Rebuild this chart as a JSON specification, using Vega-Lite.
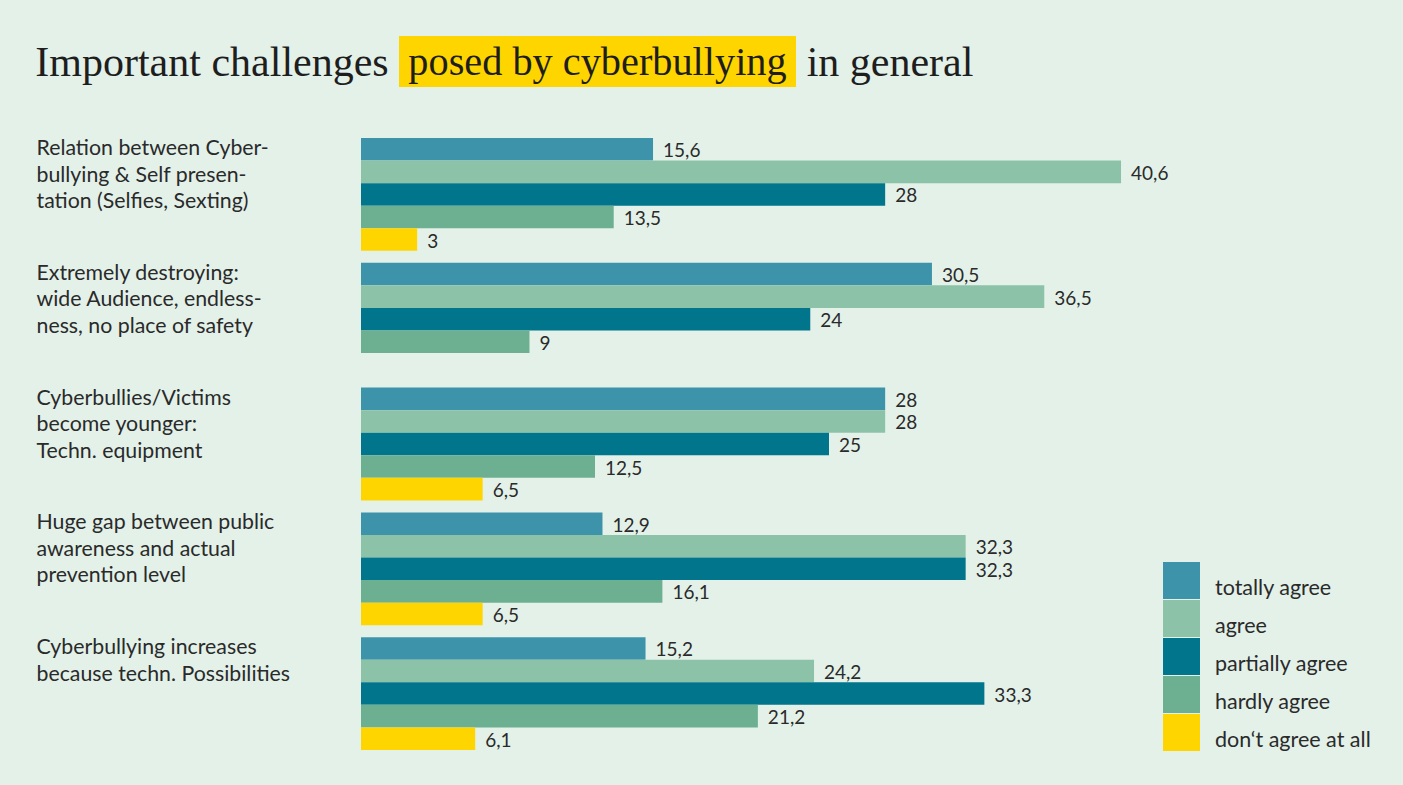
{
  "$schema": "https://vega.github.io/schema/vega-lite/v6.json",
  "background": "#e3f1e9",
  "padding": {"left": 35, "top": 36, "right": 0, "bottom": 35},
  "config": {
    "view": {"stroke": null},
    "font": "Lato",
    "locale": {"number": {"decimal": ",", "thousands": ".", "grouping": [3], "currency": ["", " €"]}}
  },
  "spacing": 50,
  "resolve": {"legend": {"color": "independent"}},
  "vconcat": [
    {
      "hconcat": [
        {
          "width": 352, "height": 51,
          "data": {"values": [{"t": "Important challenges"}]},
          "mark": {"type": "text", "font": "Liberation Serif", "fontSize": 42, "color": "#1e1e1e", "baseline": "middle", "dy": 1},
          "encoding": {"text": {"field": "t"}}
        },
        {
          "width": 397, "height": 51,
          "view": {"fill": "#ffd500", "stroke": null},
          "data": {"values": [{"t": "posed by cyberbullying"}]},
          "mark": {"type": "text", "font": "Liberation Serif", "fontSize": 40.3, "color": "#1e1e1e", "baseline": "middle", "dy": 1},
          "encoding": {"text": {"field": "t"}}
        },
        {
          "width": 164, "height": 51,
          "data": {"values": [{"t": "in general"}]},
          "mark": {"type": "text", "font": "Liberation Serif", "fontSize": 42, "color": "#1e1e1e", "baseline": "middle", "dy": 1},
          "encoding": {"text": {"field": "t"}}
        }
      ],
      "spacing": 10
    },
    {
      "width": 1368,
      "height": 612,
      "data": {"values": [
        {"topic": "Relation between Cyber-|bullying & Self presen-|tation (Selfies, Sexting)", "cat": "totally agree", "value": 15.6},
        {"topic": "Relation between Cyber-|bullying & Self presen-|tation (Selfies, Sexting)", "cat": "agree", "value": 40.6},
        {"topic": "Relation between Cyber-|bullying & Self presen-|tation (Selfies, Sexting)", "cat": "partially agree", "value": 28},
        {"topic": "Relation between Cyber-|bullying & Self presen-|tation (Selfies, Sexting)", "cat": "hardly agree", "value": 13.5},
        {"topic": "Relation between Cyber-|bullying & Self presen-|tation (Selfies, Sexting)", "cat": "don‘t agree at all", "value": 3},
        {"topic": "Extremely destroying:|wide Audience, endless-|ness, no place of safety", "cat": "totally agree", "value": 30.5},
        {"topic": "Extremely destroying:|wide Audience, endless-|ness, no place of safety", "cat": "agree", "value": 36.5},
        {"topic": "Extremely destroying:|wide Audience, endless-|ness, no place of safety", "cat": "partially agree", "value": 24},
        {"topic": "Extremely destroying:|wide Audience, endless-|ness, no place of safety", "cat": "hardly agree", "value": 9},
        {"topic": "Cyberbullies/Victims|become younger:|Techn. equipment", "cat": "totally agree", "value": 28},
        {"topic": "Cyberbullies/Victims|become younger:|Techn. equipment", "cat": "agree", "value": 28},
        {"topic": "Cyberbullies/Victims|become younger:|Techn. equipment", "cat": "partially agree", "value": 25},
        {"topic": "Cyberbullies/Victims|become younger:|Techn. equipment", "cat": "hardly agree", "value": 12.5},
        {"topic": "Cyberbullies/Victims|become younger:|Techn. equipment", "cat": "don‘t agree at all", "value": 6.5},
        {"topic": "Huge gap between public|awareness and actual|prevention level", "cat": "totally agree", "value": 12.9},
        {"topic": "Huge gap between public|awareness and actual|prevention level", "cat": "agree", "value": 32.3},
        {"topic": "Huge gap between public|awareness and actual|prevention level", "cat": "partially agree", "value": 32.3},
        {"topic": "Huge gap between public|awareness and actual|prevention level", "cat": "hardly agree", "value": 16.1},
        {"topic": "Huge gap between public|awareness and actual|prevention level", "cat": "don‘t agree at all", "value": 6.5},
        {"topic": "Cyberbullying increases|because techn. Possibilities", "cat": "totally agree", "value": 15.2},
        {"topic": "Cyberbullying increases|because techn. Possibilities", "cat": "agree", "value": 24.2},
        {"topic": "Cyberbullying increases|because techn. Possibilities", "cat": "partially agree", "value": 33.3},
        {"topic": "Cyberbullying increases|because techn. Possibilities", "cat": "hardly agree", "value": 21.2},
        {"topic": "Cyberbullying increases|because techn. Possibilities", "cat": "don‘t agree at all", "value": 6.1}
      ]},
      "encoding": {
        "y": {
          "field": "topic", "type": "nominal", "sort": null,
          "scale": {"paddingInner": 0.096, "paddingOuter": 0},
          "axis": {
            "title": null, "domain": false, "ticks": false, "tickSize": 0,
            "labelAlign": "left", "labelBaseline": "top", "labelPadding": 0,
            "labelOffset": -56.4,
            "labelFontSize": 21.3, "labelLineHeight": 26.5, "labelColor": "#2a2a2a",
            "labelLimit": 0,
            "labelExpr": "split(datum.value, '|')"
          }
        },
        "yOffset": {
          "field": "cat", "type": "nominal",
          "sort": ["totally agree", "agree", "partially agree", "hardly agree", "don‘t agree at all"],
          "scale": {"domain": ["totally agree", "agree", "partially agree", "hardly agree", "don‘t agree at all"], "paddingInner": 0, "paddingOuter": 0}
        },
        "x": {"field": "value", "type": "quantitative", "scale": {"domain": [-17.361, 55.716], "nice": false, "zero": false}, "axis": null}
      },
      "layer": [
        {
          "mark": {"type": "bar"},
          "encoding": {
            "x2": {"datum": 0},
            "color": {
              "field": "cat", "type": "nominal",
              "scale": {
                "domain": ["totally agree", "agree", "partially agree", "hardly agree", "don‘t agree at all"],
                "range": ["#3d94aa", "#8cc3a8", "#00758c", "#6caf91", "#ffd500"]
              },
              "legend": {
                "title": null, "orient": "none", "legendX": 1127, "legendY": 432,
                "padding": 0, "symbolType": "M-1,-1.432H1V0.568H-1Z", "symbolSize": 1369,
                "symbolStrokeWidth": 0, "symbolOpacity": 1, "rowPadding": 0,
                "labelFontSize": 21.5, "labelColor": "#2a2a2a", "labelOffset": 15,
                "labelBaseline": "middle", "labelLimit": 0
              }
            }
          }
        },
        {
          "mark": {"type": "text", "align": "left", "baseline": "middle", "dx": 10, "dy": 2, "fontSize": 19, "color": "#2a2a2a"},
          "encoding": {
            "text": {"field": "value", "type": "quantitative", "format": ".1~f"}
          }
        }
      ]
    }
  ]
}
